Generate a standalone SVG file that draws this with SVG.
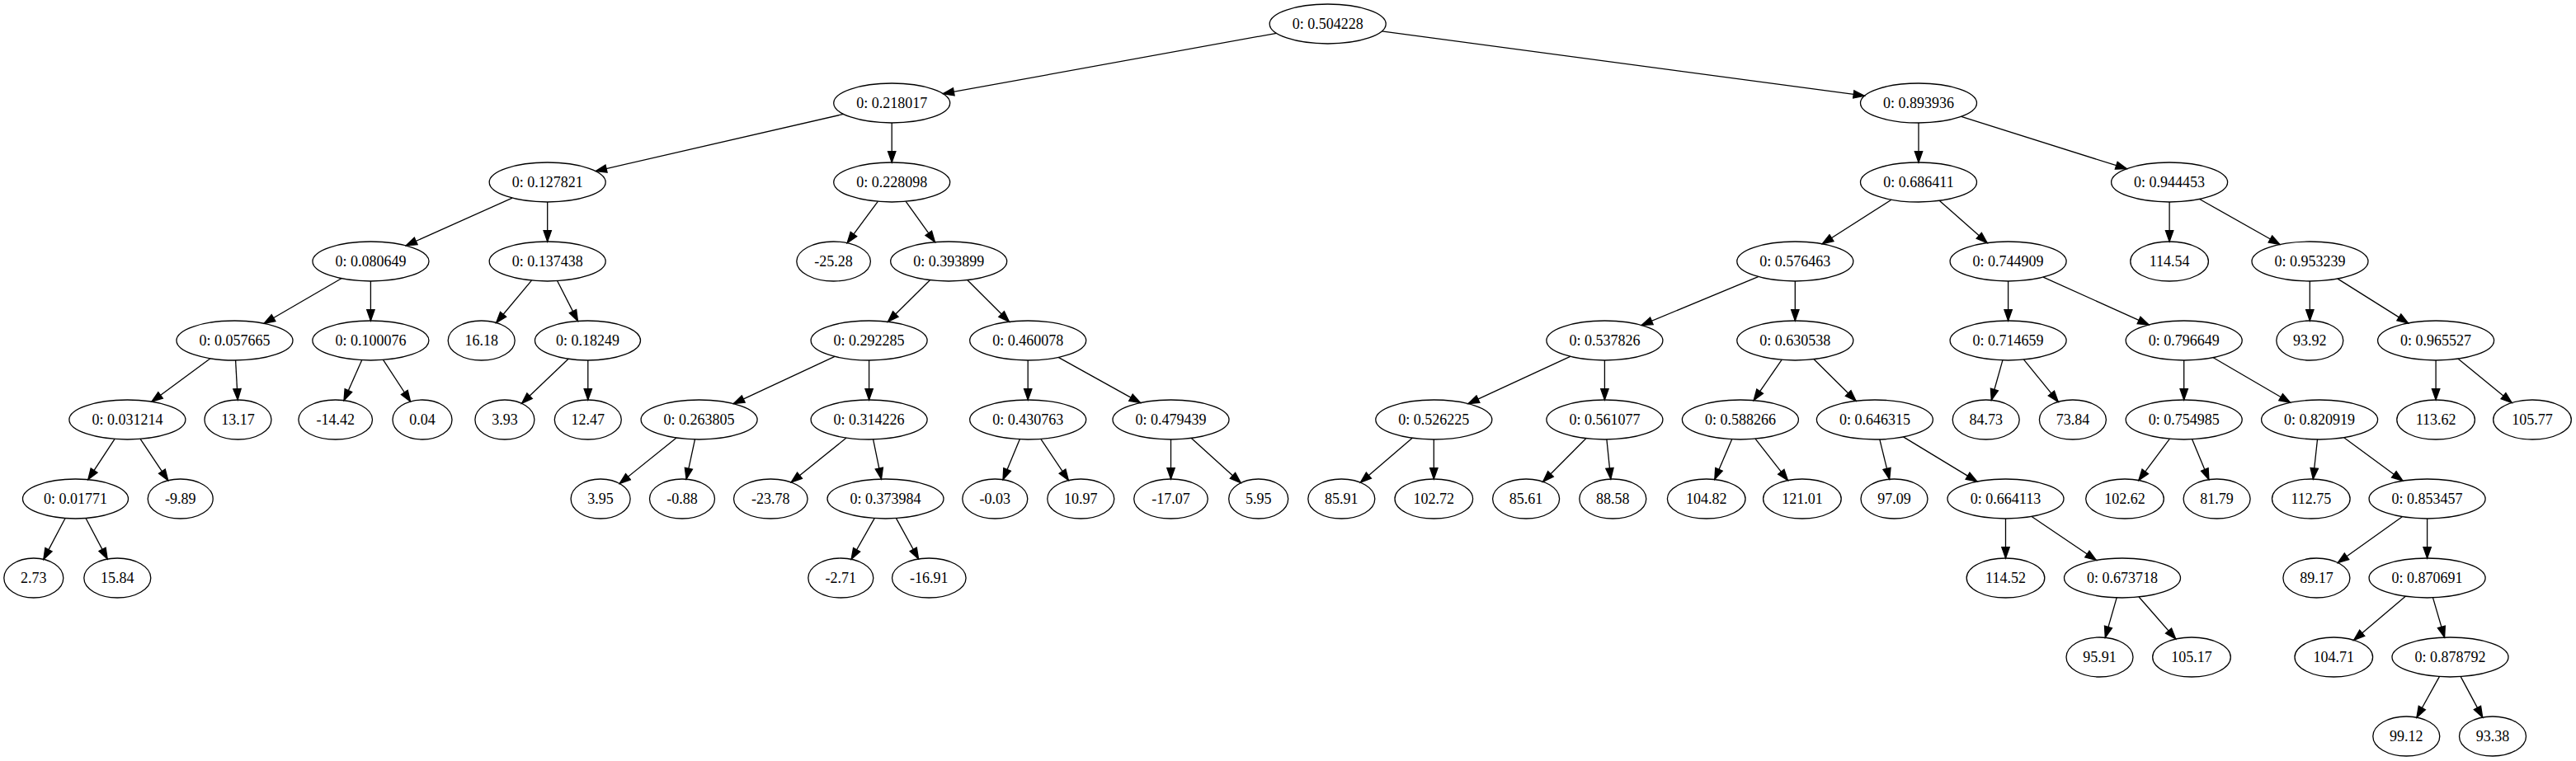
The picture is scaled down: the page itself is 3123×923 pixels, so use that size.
<svg xmlns="http://www.w3.org/2000/svg" width="3123" height="923" viewBox="0 0 3123 923">
<defs>
<style>
.n ellipse{fill:none;stroke:#000;stroke-width:1.3}
.n text{font-family:"Liberation Serif","Times New Roman",serif;font-size:18px;text-anchor:middle;fill:#000}
#edges path{fill:none;stroke:#000;stroke-width:1.3;marker-end:url(#ah)}
</style>
<marker id="ah" markerUnits="userSpaceOnUse" markerWidth="16" markerHeight="12" viewBox="-1 -1 16 12" refX="13.3" refY="5" orient="auto">
<path d="M0,0.33 L13.3,5 L0,9.67 z" fill="#000" stroke="#000" stroke-width="1.3"/>
</marker>
</defs>
<rect width="3123" height="923" fill="#fff"/>
<g id="edges">
<path d="M1547.5,40.3 L1143.2,113.7"/>
<path d="M1675.3,37.8 L2260.4,116.2"/>
<path d="M1022.6,138.4 L722.1,207.6"/>
<path d="M1081.2,149 L1081.2,197"/>
<path d="M2326,149 L2326,197"/>
<path d="M2377.7,141.3 L2578.4,204.7"/>
<path d="M621.1,240.1 L492.1,297.9"/>
<path d="M663.7,245 L663.7,293"/>
<path d="M1064.3,244.3 L1027.1,294.7"/>
<path d="M1098.2,244.3 L1133.5,293.7"/>
<path d="M2293,242.2 L2209.3,295.8"/>
<path d="M2351.4,243.4 L2409.2,294.6"/>
<path d="M2630.1,245 L2630.1,293"/>
<path d="M2666.6,241.5 L2764,296.5"/>
<path d="M413.9,337.7 L320.1,392.3"/>
<path d="M449.4,341 L449.4,389"/>
<path d="M644.5,340.1 L601.6,391.5"/>
<path d="M675.7,340.7 L700.5,389.4"/>
<path d="M1127.4,339.7 L1076.4,390.3"/>
<path d="M1172.9,339.7 L1223.5,390.3"/>
<path d="M2131.6,335.6 L1990.1,394.4"/>
<path d="M2176.3,341 L2176.3,389"/>
<path d="M2434.6,341 L2434.6,389"/>
<path d="M2477.1,336.1 L2605.2,393.9"/>
<path d="M2800.3,341 L2800.3,389"/>
<path d="M2834.1,338.1 L2919.6,391.9"/>
<path d="M255,434.8 L183.9,487.2"/>
<path d="M285.6,437 L288.2,485"/>
<path d="M438.7,436.7 L417,485.7"/>
<path d="M464.5,436.4 L497.6,487"/>
<path d="M689.1,435.3 L632.5,489.3"/>
<path d="M712.8,437 L712.8,485"/>
<path d="M1012,432.4 L889.2,489.6"/>
<path d="M1053.6,437 L1053.6,485"/>
<path d="M1246.2,437 L1246.2,485"/>
<path d="M1283.1,433.4 L1382.6,488.6"/>
<path d="M1903.7,432.3 L1779.9,489.7"/>
<path d="M1945.4,437 L1945.4,485"/>
<path d="M2160.1,436.4 L2126.1,485.6"/>
<path d="M2199.1,435.7 L2250.1,486.3"/>
<path d="M2427.9,436.9 L2414.3,485.3"/>
<path d="M2453.5,436.1 L2495.3,487.4"/>
<path d="M2647.7,437 L2647.7,485"/>
<path d="M2683.2,433.7 L2776.6,488.3"/>
<path d="M2953.1,437 L2953.1,485"/>
<path d="M2980.2,435.2 L3045.2,488.6"/>
<path d="M139.1,532.4 L106.8,581.7"/>
<path d="M170.1,532.4 L203.8,582.8"/>
<path d="M820.1,531.1 L751.1,586.5"/>
<path d="M842.5,532.9 L832.1,581.2"/>
<path d="M1026.1,531.1 L959.1,585"/>
<path d="M1058.6,532.9 L1068.5,581.1"/>
<path d="M1236.3,532.8 L1216,581.7"/>
<path d="M1261.8,532.4 L1295.4,582.7"/>
<path d="M1419.5,533 L1419.5,581"/>
<path d="M1444.4,531.5 L1504.3,585.7"/>
<path d="M1712.2,531.3 L1649.3,585.3"/>
<path d="M1738.3,533 L1738.3,581"/>
<path d="M1922.8,531.7 L1870.6,584.3"/>
<path d="M1947.9,533 L1952.8,581.1"/>
<path d="M2099.7,532.8 L2078.8,581.5"/>
<path d="M2128,532.2 L2167.5,582.7"/>
<path d="M2278.8,532.9 L2290.7,581.3"/>
<path d="M2307.5,529.9 L2396.9,584.1"/>
<path d="M2630.3,532.3 L2592.8,582.6"/>
<path d="M2657.6,532.8 L2677.9,581.7"/>
<path d="M2809.5,533 L2804.3,581.1"/>
<path d="M2841.7,530.8 L2913,583.2"/>
<path d="M79.1,628.5 L52.8,678.4"/>
<path d="M104,628.5 L130.2,678.1"/>
<path d="M1060.2,628.6 L1032.1,678.3"/>
<path d="M1086.5,628.6 L1113.6,678"/>
<path d="M2431.5,629 L2431.5,677"/>
<path d="M2463.1,626.5 L2541.4,679.5"/>
<path d="M2912.3,626.7 L2834.2,682.5"/>
<path d="M2942.6,629 L2942.6,677"/>
<path d="M2566.2,724.9 L2552.3,773.3"/>
<path d="M2593.1,724 L2637.8,775.1"/>
<path d="M2916.3,723.3 L2853.6,776.4"/>
<path d="M2949.5,724.9 L2963.6,773.1"/>
<path d="M2957.4,820.6 L2929.9,870.2"/>
<path d="M2983.2,820.6 L3009.7,870.1"/>
</g>
<g id="n0" class="n"><ellipse cx="1609.7" cy="29" rx="70.5" ry="24"/><text x="1609.7" y="35">0: 0.504228</text></g>
<g id="n1" class="n"><ellipse cx="1081.2" cy="125" rx="70.5" ry="24"/><text x="1081.2" y="131">0: 0.218017</text></g>
<g id="n2" class="n"><ellipse cx="2326" cy="125" rx="70.5" ry="24"/><text x="2326" y="131">0: 0.893936</text></g>
<g id="n3" class="n"><ellipse cx="663.7" cy="221" rx="70.5" ry="24"/><text x="663.7" y="227">0: 0.127821</text></g>
<g id="n4" class="n"><ellipse cx="1081.2" cy="221" rx="70.5" ry="24"/><text x="1081.2" y="227">0: 0.228098</text></g>
<g id="n5" class="n"><ellipse cx="2326" cy="221" rx="70.5" ry="24"/><text x="2326" y="227">0: 0.686411</text></g>
<g id="n6" class="n"><ellipse cx="2630.1" cy="221" rx="70.5" ry="24"/><text x="2630.1" y="227">0: 0.944453</text></g>
<g id="n7" class="n"><ellipse cx="449.5" cy="317" rx="70.5" ry="24"/><text x="449.5" y="323">0: 0.080649</text></g>
<g id="n8" class="n"><ellipse cx="663.7" cy="317" rx="70.5" ry="24"/><text x="663.7" y="323">0: 0.137438</text></g>
<g id="n9" class="n"><ellipse cx="1010.6" cy="317" rx="44.8" ry="24"/><text x="1010.6" y="323">-25.28</text></g>
<g id="n10" class="n"><ellipse cx="1150.2" cy="317" rx="70.5" ry="24"/><text x="1150.2" y="323">0: 0.393899</text></g>
<g id="n11" class="n"><ellipse cx="2176.3" cy="317" rx="70.5" ry="24"/><text x="2176.3" y="323">0: 0.576463</text></g>
<g id="n12" class="n"><ellipse cx="2434.6" cy="317" rx="70.5" ry="24"/><text x="2434.6" y="323">0: 0.744909</text></g>
<g id="n13" class="n"><ellipse cx="2630.1" cy="317" rx="47.3" ry="24"/><text x="2630.1" y="323">114.54</text></g>
<g id="n14" class="n"><ellipse cx="2800.5" cy="317" rx="70.5" ry="24"/><text x="2800.5" y="323">0: 0.953239</text></g>
<g id="n15" class="n"><ellipse cx="284.5" cy="413" rx="70.5" ry="24"/><text x="284.5" y="419">0: 0.057665</text></g>
<g id="n16" class="n"><ellipse cx="449.4" cy="413" rx="70.5" ry="24"/><text x="449.4" y="419">0: 0.100076</text></g>
<g id="n17" class="n"><ellipse cx="583.7" cy="413" rx="40.5" ry="24"/><text x="583.7" y="419">16.18</text></g>
<g id="n18" class="n"><ellipse cx="712.5" cy="413" rx="64" ry="24"/><text x="712.5" y="419">0: 0.18249</text></g>
<g id="n19" class="n"><ellipse cx="1053.6" cy="413" rx="70.5" ry="24"/><text x="1053.6" y="419">0: 0.292285</text></g>
<g id="n20" class="n"><ellipse cx="1246.2" cy="413" rx="70.5" ry="24"/><text x="1246.2" y="419">0: 0.460078</text></g>
<g id="n21" class="n"><ellipse cx="1945.4" cy="413" rx="70.5" ry="24"/><text x="1945.4" y="419">0: 0.537826</text></g>
<g id="n22" class="n"><ellipse cx="2176.3" cy="413" rx="70.5" ry="24"/><text x="2176.3" y="419">0: 0.630538</text></g>
<g id="n23" class="n"><ellipse cx="2434.6" cy="413" rx="70.5" ry="24"/><text x="2434.6" y="419">0: 0.714659</text></g>
<g id="n24" class="n"><ellipse cx="2647.7" cy="413" rx="70.5" ry="24"/><text x="2647.7" y="419">0: 0.796649</text></g>
<g id="n25" class="n"><ellipse cx="2800.3" cy="413" rx="40.5" ry="24"/><text x="2800.3" y="419">93.92</text></g>
<g id="n26" class="n"><ellipse cx="2953.1" cy="413" rx="70.5" ry="24"/><text x="2953.1" y="419">0: 0.965527</text></g>
<g id="n27" class="n"><ellipse cx="154.4" cy="509" rx="70.5" ry="24"/><text x="154.4" y="515">0: 0.031214</text></g>
<g id="n28" class="n"><ellipse cx="288.5" cy="509" rx="40.5" ry="24"/><text x="288.5" y="515">13.17</text></g>
<g id="n29" class="n"><ellipse cx="406.7" cy="509" rx="44.8" ry="24"/><text x="406.7" y="515">-14.42</text></g>
<g id="n30" class="n"><ellipse cx="512" cy="509" rx="36" ry="24"/><text x="512" y="515">0.04</text></g>
<g id="n31" class="n"><ellipse cx="611.9" cy="509" rx="36" ry="24"/><text x="611.9" y="515">3.93</text></g>
<g id="n32" class="n"><ellipse cx="712.8" cy="509" rx="40.5" ry="24"/><text x="712.8" y="515">12.47</text></g>
<g id="n33" class="n"><ellipse cx="847.6" cy="509" rx="70.5" ry="24"/><text x="847.6" y="515">0: 0.263805</text></g>
<g id="n34" class="n"><ellipse cx="1053.6" cy="509" rx="70.5" ry="24"/><text x="1053.6" y="515">0: 0.314226</text></g>
<g id="n35" class="n"><ellipse cx="1246.2" cy="509" rx="70.5" ry="24"/><text x="1246.2" y="515">0: 0.430763</text></g>
<g id="n36" class="n"><ellipse cx="1419.5" cy="509" rx="70.5" ry="24"/><text x="1419.5" y="515">0: 0.479439</text></g>
<g id="n37" class="n"><ellipse cx="1738.3" cy="509" rx="70.5" ry="24"/><text x="1738.3" y="515">0: 0.526225</text></g>
<g id="n38" class="n"><ellipse cx="1945.4" cy="509" rx="70.5" ry="24"/><text x="1945.4" y="515">0: 0.561077</text></g>
<g id="n39" class="n"><ellipse cx="2109.9" cy="509" rx="70.5" ry="24"/><text x="2109.9" y="515">0: 0.588266</text></g>
<g id="n40" class="n"><ellipse cx="2272.9" cy="509" rx="70.5" ry="24"/><text x="2272.9" y="515">0: 0.646315</text></g>
<g id="n41" class="n"><ellipse cx="2407.7" cy="509" rx="40.5" ry="24"/><text x="2407.7" y="515">84.73</text></g>
<g id="n42" class="n"><ellipse cx="2512.9" cy="509" rx="40.5" ry="24"/><text x="2512.9" y="515">73.84</text></g>
<g id="n43" class="n"><ellipse cx="2647.7" cy="509" rx="70.5" ry="24"/><text x="2647.7" y="515">0: 0.754985</text></g>
<g id="n44" class="n"><ellipse cx="2812.1" cy="509" rx="70.5" ry="24"/><text x="2812.1" y="515">0: 0.820919</text></g>
<g id="n45" class="n"><ellipse cx="2953.1" cy="509" rx="47.3" ry="24"/><text x="2953.1" y="515">113.62</text></g>
<g id="n46" class="n"><ellipse cx="3070" cy="509" rx="47.3" ry="24"/><text x="3070" y="515">105.77</text></g>
<g id="n47" class="n"><ellipse cx="91.5" cy="605" rx="64" ry="24"/><text x="91.5" y="611">0: 0.01771</text></g>
<g id="n48" class="n"><ellipse cx="218.7" cy="605" rx="39.5" ry="24"/><text x="218.7" y="611">-9.89</text></g>
<g id="n49" class="n"><ellipse cx="728.1" cy="605" rx="36" ry="24"/><text x="728.1" y="611">3.95</text></g>
<g id="n50" class="n"><ellipse cx="827" cy="605" rx="39.5" ry="24"/><text x="827" y="611">-0.88</text></g>
<g id="n51" class="n"><ellipse cx="934.3" cy="605" rx="44.8" ry="24"/><text x="934.3" y="611">-23.78</text></g>
<g id="n52" class="n"><ellipse cx="1073.5" cy="605" rx="70.5" ry="24"/><text x="1073.5" y="611">0: 0.373984</text></g>
<g id="n53" class="n"><ellipse cx="1206.3" cy="605" rx="39.5" ry="24"/><text x="1206.3" y="611">-0.03</text></g>
<g id="n54" class="n"><ellipse cx="1310.3" cy="605" rx="40.5" ry="24"/><text x="1310.3" y="611">10.97</text></g>
<g id="n55" class="n"><ellipse cx="1419.5" cy="605" rx="44.8" ry="24"/><text x="1419.5" y="611">-17.07</text></g>
<g id="n56" class="n"><ellipse cx="1525.7" cy="605" rx="36" ry="24"/><text x="1525.7" y="611">5.95</text></g>
<g id="n57" class="n"><ellipse cx="1626.3" cy="605" rx="40.5" ry="24"/><text x="1626.3" y="611">85.91</text></g>
<g id="n58" class="n"><ellipse cx="1738.3" cy="605" rx="47.3" ry="24"/><text x="1738.3" y="611">102.72</text></g>
<g id="n59" class="n"><ellipse cx="1850.1" cy="605" rx="40.5" ry="24"/><text x="1850.1" y="611">85.61</text></g>
<g id="n60" class="n"><ellipse cx="1955.3" cy="605" rx="40.5" ry="24"/><text x="1955.3" y="611">88.58</text></g>
<g id="n61" class="n"><ellipse cx="2068.7" cy="605" rx="47.3" ry="24"/><text x="2068.7" y="611">104.82</text></g>
<g id="n62" class="n"><ellipse cx="2184.9" cy="605" rx="47.3" ry="24"/><text x="2184.9" y="611">121.01</text></g>
<g id="n63" class="n"><ellipse cx="2296.5" cy="605" rx="40.5" ry="24"/><text x="2296.5" y="611">97.09</text></g>
<g id="n64" class="n"><ellipse cx="2431.5" cy="605" rx="70.5" ry="24"/><text x="2431.5" y="611">0: 0.664113</text></g>
<g id="n65" class="n"><ellipse cx="2576" cy="605" rx="47.3" ry="24"/><text x="2576" y="611">102.62</text></g>
<g id="n66" class="n"><ellipse cx="2687.6" cy="605" rx="40.5" ry="24"/><text x="2687.6" y="611">81.79</text></g>
<g id="n67" class="n"><ellipse cx="2801.8" cy="605" rx="47.3" ry="24"/><text x="2801.8" y="611">112.75</text></g>
<g id="n68" class="n"><ellipse cx="2942.6" cy="605" rx="70.5" ry="24"/><text x="2942.6" y="611">0: 0.853457</text></g>
<g id="n69" class="n"><ellipse cx="40.8" cy="701" rx="36" ry="24"/><text x="40.8" y="707">2.73</text></g>
<g id="n70" class="n"><ellipse cx="142.3" cy="701" rx="40.5" ry="24"/><text x="142.3" y="707">15.84</text></g>
<g id="n71" class="n"><ellipse cx="1019.3" cy="701" rx="39.5" ry="24"/><text x="1019.3" y="707">-2.71</text></g>
<g id="n72" class="n"><ellipse cx="1126.3" cy="701" rx="44.8" ry="24"/><text x="1126.3" y="707">-16.91</text></g>
<g id="n73" class="n"><ellipse cx="2431.5" cy="701" rx="47.3" ry="24"/><text x="2431.5" y="707">114.52</text></g>
<g id="n74" class="n"><ellipse cx="2573" cy="701" rx="70.5" ry="24"/><text x="2573" y="707">0: 0.673718</text></g>
<g id="n75" class="n"><ellipse cx="2808.4" cy="701" rx="40.5" ry="24"/><text x="2808.4" y="707">89.17</text></g>
<g id="n76" class="n"><ellipse cx="2942.6" cy="701" rx="70.5" ry="24"/><text x="2942.6" y="707">0: 0.870691</text></g>
<g id="n77" class="n"><ellipse cx="2545.5" cy="797" rx="40.5" ry="24"/><text x="2545.5" y="803">95.91</text></g>
<g id="n78" class="n"><ellipse cx="2657" cy="797" rx="47.3" ry="24"/><text x="2657" y="803">105.17</text></g>
<g id="n79" class="n"><ellipse cx="2829.3" cy="797" rx="47.3" ry="24"/><text x="2829.3" y="803">104.71</text></g>
<g id="n80" class="n"><ellipse cx="2970.5" cy="797" rx="70.5" ry="24"/><text x="2970.5" y="803">0: 0.878792</text></g>
<g id="n81" class="n"><ellipse cx="2917.3" cy="893" rx="40.5" ry="24"/><text x="2917.3" y="899">99.12</text></g>
<g id="n82" class="n"><ellipse cx="3022" cy="893" rx="40.5" ry="24"/><text x="3022" y="899">93.38</text></g>
</svg>
